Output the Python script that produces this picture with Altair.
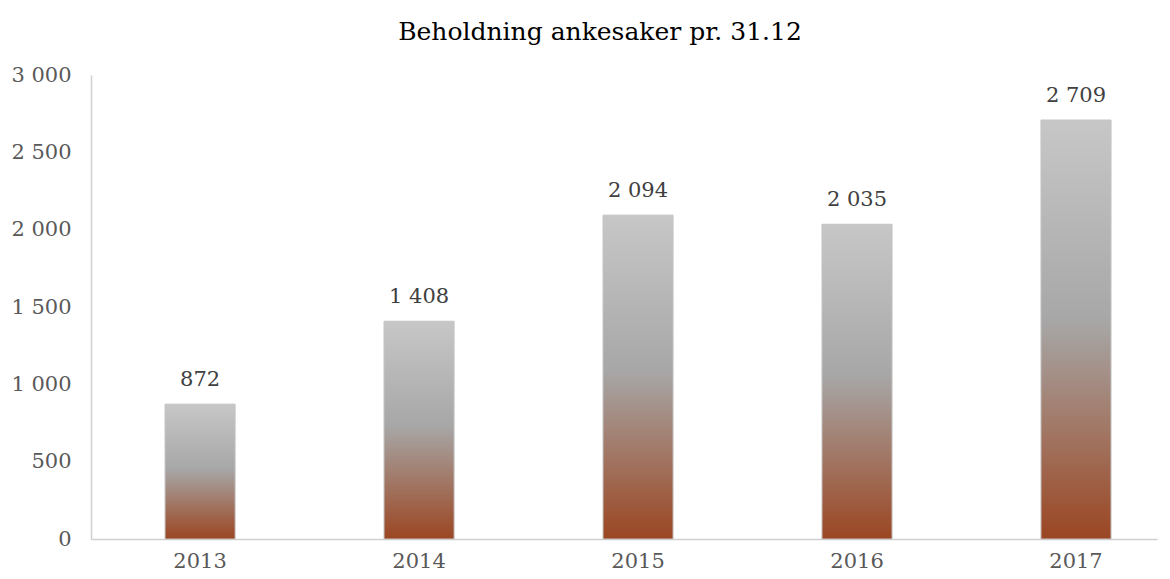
import altair as alt
import pandas as pd

years = ["2013", "2014", "2015", "2016", "2017"]
values = [872, 1408, 2094, 2035, 2709]
y_ticks = [0, 500, 1000, 1500, 2000, 2500, 3000]

df = pd.DataFrame({"year": years, "value": values})

FONT = "DejaVu Serif"
FS = 21

grad = alt.LinearGradient(
    gradient="linear",
    x1=0, y1=0, x2=0, y2=1,
    stops=[
        alt.GradientStop(offset=0, color="#c7c7c7"),
        alt.GradientStop(offset=0.48, color="#a7a7a7"),
        alt.GradientStop(offset=1, color="#9b4622"),
    ],
)

x_enc = alt.X(
    "year:N",
    sort=years,
    title=None,
    scale=alt.Scale(paddingInner=0.68, paddingOuter=0.274, align=0.617),
    axis=alt.Axis(
        labelAngle=0, ticks=False, domainColor="#d0d0d0", domainWidth=1.5,
        labelFont=FONT, labelFontSize=FS, labelColor="#595959", labelPadding=11,
    ),
)

bars = alt.Chart(df).mark_bar(
    color=grad, stroke="#c4c4c4", strokeWidth=1
).encode(
    x=x_enc,
    y=alt.Y(
        "value:Q",
        title=None,
        scale=alt.Scale(domain=[0, 3000], nice=False),
        axis=alt.Axis(
            values=y_ticks, grid=False, ticks=False,
            domainColor="#d0d0d0", domainWidth=1.5,
            labelFont=FONT, labelFontSize=FS, labelColor="#595959", labelPadding=20,
            labelExpr="replace(format(datum.value, ','), ',', ' ')",
        ),
    ),
)

text = alt.Chart(df).transform_calculate(
    label="replace(format(datum.value, ','), ',', ' ')"
).mark_text(
    font=FONT, fontSize=FS, color="#404040", dy=-24, baseline="middle"
).encode(
    x=alt.X("year:N", sort=years),
    y="value:Q",
    text="label:N",
)

chart = (bars + text).properties(
    width=1066,
    height=464,
    autosize=alt.AutoSizeParams(type="none"),
    padding={"left": 83, "top": 67, "right": 5, "bottom": 32},
    title=alt.TitleParams(
        "Beholdning ankesaker pr. 31.12",
        font=FONT, fontSize=25, fontWeight="normal", color="#000000",
        anchor="middle", dx=-24, dy=-19, offset=0,
    ),
).configure_view(stroke=None)

chart.save("out.html", embed_options={"renderer": "svg", "actions": False})
